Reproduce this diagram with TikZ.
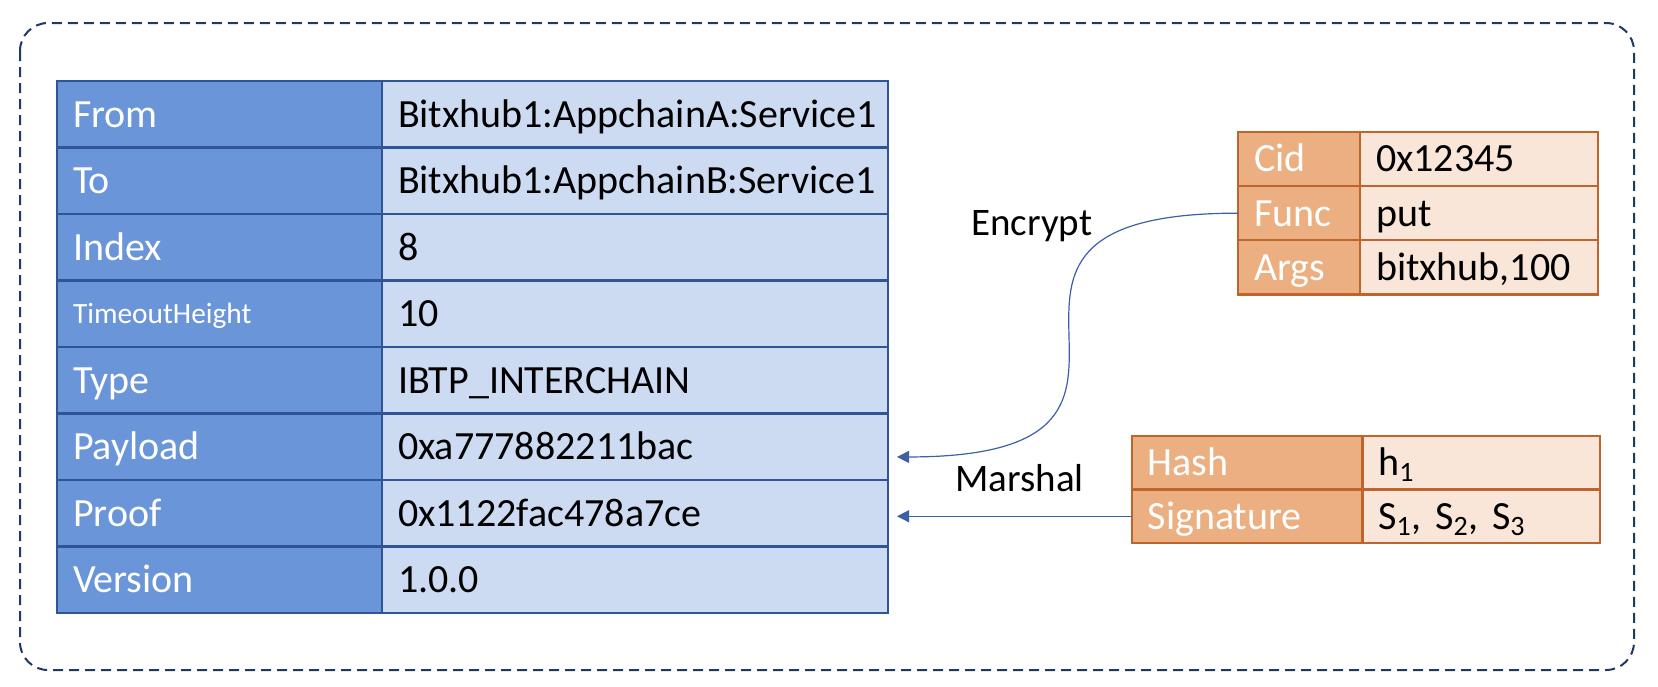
\documentclass[tikz,border=0pt]{standalone}
\usepackage{fontspec}
\setmainfont{Carlito}
\usetikzlibrary{arrows.meta}
\definecolor{keyblue}{RGB}{106,149,217}
\definecolor{valblue}{RGB}{205,219,242}
\definecolor{lineblue}{RGB}{47,85,151}
\definecolor{keyorange}{RGB}{235,175,130}
\definecolor{valorange}{RGB}{249,230,216}
\definecolor{lineorange}{RGB}{190,100,45}
\definecolor{framenavy}{RGB}{31,56,100}
\definecolor{arrowblue}{RGB}{60,95,165}
\tikzset{
  cell/.style={draw, line width=1.2pt, anchor=north west, outer sep=0pt, inner xsep=8pt, inner ysep=0pt,
    text height=12.9pt, text depth=0pt, align=left, font=\fontsize{20}{24}\selectfont},
  mkey/.style={cell, fill=keyblue, draw=lineblue, text=white, text width=146.5pt, minimum height=33.25pt},
  mkeysmall/.style={mkey, font=\fontsize{14.7}{17}\selectfont, text height=9.5pt},
  mval/.style={cell, fill=valblue, draw=lineblue, text width=237pt, minimum height=33.25pt},
  ckey/.style={cell, fill=keyorange, draw=lineorange, text=white, text width=45pt, minimum height=27.05pt},
  cval/.style={cell, fill=valorange, draw=lineorange, text width=103pt, minimum height=27.05pt},
  hkey/.style={ckey, text width=99.3pt, minimum height=26.75pt},
  hval/.style={cval, text width=102.85pt, minimum height=26.75pt},
  conn/.style={draw=arrowblue, line width=0.6pt, -{Triangle[length=6pt,width=6pt]}},
  lbl/.style={inner sep=0pt, text height=12.6pt, text depth=0pt, font=\fontsize{19.5}{23}\selectfont}
}
\begin{document}
\begin{tikzpicture}[x=0.5pt,y=-0.5pt]
\useasboundingbox (0,0) rectangle (1658,686);
\draw[framenavy, line width=1pt, dash pattern=on 5pt off 3pt, rounded corners=14pt] (20,23) rectangle (1634,670);
% ibtp table
\foreach \key/\val/\kst [count=\i] in {From/Bitxhub1:AppchainA:Service1/mkey, To/Bitxhub1:AppchainB:Service1/mkey,
    Index/8/mkey, TimeoutHeight/10/mkeysmall, Type/IBTP\_INTERCHAIN/mkey, Payload/0xa777882211bac/mkey,
    Proof/0x1122fac478a7ce/mkey, Version/1.0.0/mkey}
  {
  \node[\kst] (mkey\i) at (57,{81+(\i-1)*66.5}) {\key};
  \node[mval] (mval\i) at (382,{81+(\i-1)*66.5}) {\mbox{\val}};
  }
% content table
\foreach \key/\val [count=\i] in {Cid/0x12345, Func/put, Args/{bitxhub,100}}
  {
  \node[ckey] (ckey\i) at (1238,{132+(\i-1)*54.1}) {\key};
  \node[cval] (cval\i) at (1360,{132+(\i-1)*54.1}) {\mbox{\val}};
  }
% proof table
\foreach \key/\val [count=\i] in {Hash/h\textsubscript{1}, Signature/{S\textsubscript{1}, S\textsubscript{2}, S\textsubscript{3}}}
  {
  \node[hkey] (hkey\i) at (1131.7,{436+(\i-1)*53.5}) {\key};
  \node[hval] (hval\i) at (1362.3,{436+(\i-1)*53.5}) {\mbox{\val}};
  }
\coordinate (payin) at ([xshift=4.5pt,yshift=-5.1pt]mval6.east);
\coordinate (proofin) at ([xshift=4.5pt]mval7.east |- hkey2.west);
\draw[conn] (ckey2.west) .. controls (payin |- ckey2.west) and (ckey2.west |- payin) .. (payin);
\draw[conn] (hkey2.west) -- (proofin);
\node[lbl] (encrypt) at (1031.7,222.5) {Encrypt};
\node[lbl] (marshal) at (1019.5,479) {Marshal};
\end{tikzpicture}
\end{document}
